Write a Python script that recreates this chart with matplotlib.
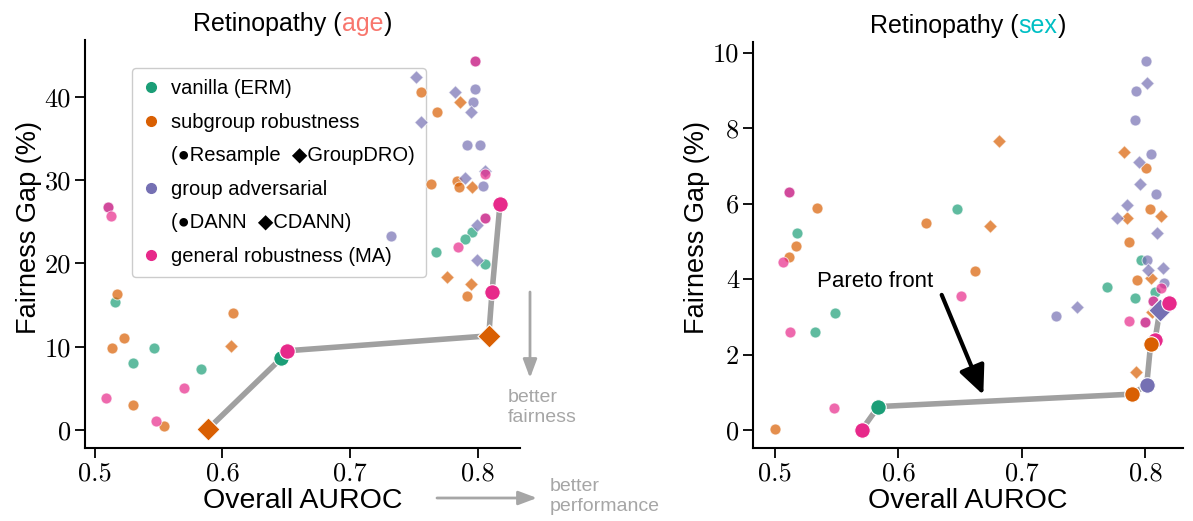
import matplotlib
matplotlib.use('Agg')
from matplotlib import pyplot as plt
from matplotlib.lines import Line2D
from matplotlib.patches import FancyArrowPatch

# ---- data ----
# method codes: erm, resample, groupdro, dann, cdann, ma
AGE_AUROC = [0.510, 0.510, 0.5126, 0.5175, 0.5157, 0.513, 0.523, 0.546, 0.5296, 0.5084,
             0.5296, 0.548, 0.554, 0.570, 0.583, 0.6085, 0.607,
             0.798, 0.798, 0.7518, 0.7554, 0.782, 0.798, 0.786, 0.7967, 0.7946, 0.768,
             0.7554, 0.7915, 0.802, 0.8056, 0.8056, 0.7633, 0.7836, 0.7857, 0.790,
             0.7957, 0.804, 0.8056, 0.8056, 0.7993, 0.7957, 0.790, 0.785, 0.732,
             0.7675, 0.7999, 0.8056, 0.7763, 0.795, 0.792]
AGE_GAP = [26.8, 26.8, 25.7, 16.3, 15.4, 9.8, 11.1, 9.9, 8.0, 3.9,
           3.0, 1.1, 0.5, 5.1, 7.3, 14.0, 10.1,
           44.3, 44.3, 42.3, 40.6, 40.6, 40.9, 39.4, 39.4, 38.2, 38.2,
           36.9, 34.2, 34.2, 31.1, 30.7, 29.5, 29.9, 29.2, 30.2,
           29.2, 29.3, 25.4, 25.4, 24.6, 23.7, 22.9, 21.9, 23.3,
           21.3, 20.4, 19.9, 18.3, 17.5, 16.1]
AGE_METHOD = ['dann', 'ma', 'ma', 'resample', 'erm', 'resample', 'resample', 'erm', 'erm', 'ma',
              'resample', 'ma', 'resample', 'ma', 'erm', 'resample', 'groupdro',
              'dann', 'ma', 'cdann', 'resample', 'cdann', 'dann', 'groupdro', 'dann', 'cdann', 'resample',
              'cdann', 'dann', 'dann', 'cdann', 'ma', 'resample', 'resample', 'resample', 'cdann',
              'groupdro', 'dann', 'dann', 'ma', 'cdann', 'erm', 'erm', 'ma', 'dann',
              'erm', 'cdann', 'erm', 'groupdro', 'groupdro', 'resample']
AGE_FRONT_AUROC = [0.5884, 0.646, 0.6503, 0.8088, 0.8114, 0.8176]
AGE_FRONT_GAP = [0.08, 8.6, 9.5, 11.3, 16.6, 27.1]
AGE_FRONT_METHOD = ['groupdro', 'erm', 'ma', 'groupdro', 'ma', 'ma']

SEX_AUROC = [0.500, 0.5113, 0.5113, 0.5337, 0.5176, 0.5167, 0.5113, 0.5065, 0.5486, 0.5324,
             0.5119, 0.5478, 0.6223,
             0.8004, 0.801, 0.7923, 0.7915, 0.6816, 0.7826, 0.8042, 0.7945, 0.8004, 0.7955,
             0.8085, 0.6471, 0.8036, 0.7848, 0.7767, 0.7848, 0.8123, 0.8096, 0.6741, 0.7866,
             0.6622, 0.7966, 0.801, 0.8144, 0.8023, 0.8042, 0.7928, 0.815, 0.7686, 0.8077,
             0.8123, 0.6509, 0.7915, 0.8064, 0.8064, 0.8053, 0.7443, 0.7273, 0.7864, 0.800,
             0.800, 0.7923]
SEX_GAP = [0.03, 6.31, 6.31, 5.89, 5.21, 4.87, 4.59, 4.44, 3.09, 2.60,
           2.60, 0.57, 5.49,
           9.78, 9.20, 8.99, 8.21, 7.66, 7.36, 7.31, 7.09, 6.93, 6.52,
           6.24, 5.85, 5.85, 5.96, 5.62, 5.62, 5.67, 5.23, 5.41, 4.99,
           4.22, 4.50, 4.50, 4.28, 4.24, 4.04, 3.97, 3.90, 3.78, 3.66,
           3.75, 3.56, 3.50, 3.43, 3.43, 3.13, 3.25, 3.02, 2.90, 2.86,
           2.86, 1.53]
SEX_METHOD = ['resample', 'dann', 'ma', 'resample', 'erm', 'resample', 'resample', 'ma', 'erm', 'erm',
              'ma', 'ma', 'resample',
              'dann', 'cdann', 'dann', 'dann', 'groupdro', 'groupdro', 'dann', 'cdann', 'resample', 'cdann',
              'dann', 'erm', 'resample', 'cdann', 'cdann', 'groupdro', 'groupdro', 'cdann', 'groupdro', 'resample',
              'resample', 'erm', 'dann', 'cdann', 'cdann', 'groupdro', 'resample', 'dann', 'erm', 'erm',
              'ma', 'ma', 'erm', 'dann', 'ma', 'groupdro', 'cdann', 'dann', 'ma', 'dann',
              'ma', 'groupdro']
SEX_FRONT_AUROC = [0.5702, 0.5837, 0.789, 0.801, 0.8077, 0.8042, 0.8117, 0.8193]
SEX_FRONT_GAP = [0.0, 0.62, 0.95, 1.19, 2.38, 2.28, 3.18, 3.37]
SEX_FRONT_METHOD = ['ma', 'erm', 'resample', 'dann', 'ma', 'resample', 'cdann', 'ma']

X_TICKS = [0.5, 0.6, 0.7, 0.8]
AGE_Y_TICKS = [0, 10, 20, 30, 40]
SEX_Y_TICKS = [0, 2, 4, 6, 8, 10]

LEGEND_LABELS = ['vanilla (ERM)', 'subgroup robustness', '(\u25cfResample  \u25c6GroupDRO)',
                 'group adversarial', '(\u25cfDANN  \u25c6CDANN)', 'general robustness (MA)']

COLORS = {'erm': '#1b9e77', 'resample': '#d95f02', 'groupdro': '#d95f02',
          'dann': '#7570b3', 'cdann': '#7570b3', 'ma': '#e7298a'}
MARKERS = {'erm': 'o', 'resample': 'o', 'groupdro': 'D', 'dann': 'o', 'cdann': 'D', 'ma': 'o'}
ORDER = ['erm', 'resample', 'groupdro', 'dann', 'cdann', 'ma']

SANS = ['Liberation Sans', 'DejaVu Sans']
GRAY = '#a6a6a6'

plt.rcParams['axes.formatter.use_mathtext'] = True

W, H = 1193, 521
fig = plt.figure(figsize=(W / 100, H / 100), dpi=100)
ax1 = fig.add_axes([85 / W, 73 / H, 435 / W, 408 / H])
ax2 = fig.add_axes([753 / W, 73 / H, 430 / W, 406 / H])


def draw_points(ax, xs, ys, methods, big=False):
    for m in ORDER:
        px = [x for x, k in zip(xs, methods) if k == m]
        py = [y for y, k in zip(ys, methods) if k == m]
        if not px:
            continue
        if big:
            s = 140 if MARKERS[m] == 'D' else 125
            ax.scatter(px, py, s=s, marker=MARKERS[m], color=COLORS[m],
                       edgecolor='white', linewidth=0.8, zorder=5)
        else:
            s = 48 if MARKERS[m] == 'D' else 62
            ax.scatter(px, py, s=s, marker=MARKERS[m], color=COLORS[m], alpha=0.7,
                       edgecolor='white', linewidth=0.7, zorder=2)


def draw_front(ax, xs, ys, methods):
    pts = sorted(zip(xs, ys))
    ax.plot([p[0] for p in pts], [p[1] for p in pts], color='#a0a0a0', lw=4,
            solid_capstyle='round', zorder=4)
    for x, y, m in zip(xs, ys, methods):
        draw_points(ax, [x], [y], [m], big=True)


def style_axis(ax, yticks):
    for side in ['top', 'right']:
        ax.spines[side].set_visible(False)
    for side in ['left', 'bottom']:
        ax.spines[side].set_linewidth(1.5)
    ax.set_xticks(X_TICKS)
    ax.set_xticklabels([str(t) for t in X_TICKS])
    ax.set_yticks(yticks)
    ax.set_yticklabels([str(t) for t in yticks])
    ax.tick_params(length=7, width=1.3, labelsize=19, pad=3)
    for lab in ax.get_xticklabels() + ax.get_yticklabels():
        lab.set_family('cmr10')
    ax.set_xlabel('Overall AUROC', fontsize=20.5, family=SANS, labelpad=2)
    ax.set_ylabel('Fairness Gap (%)', fontsize=19.5, family=SANS)


def colored_title(ax, parts, xc):
    renderer = fig.canvas.get_renderer()
    texts = []
    for s, c in parts:
        t = ax.text(0, 1.022, s, color=c, fontsize=18, family=SANS,
                    transform=ax.transAxes, ha='left', va='baseline')
        texts.append(t)
    axw = ax.get_window_extent(renderer).width
    widths = [t.get_window_extent(renderer).width / axw for t in texts]
    x = xc - sum(widths) / 2
    for t, w in zip(texts, widths):
        t.set_x(x)
        x += w


# left panel
draw_points(ax1, AGE_AUROC, AGE_GAP, AGE_METHOD)
draw_front(ax1, AGE_FRONT_AUROC, AGE_FRONT_GAP, AGE_FRONT_METHOD)
ax1.set_xlim(0.4922, 0.8333)
ax1.set_ylim(-2.16, 46.8)
style_axis(ax1, AGE_Y_TICKS)
ax1.yaxis.set_label_coords(-0.099, 0.54)

handles = []
for key, lab in zip(['erm', 'resample', None, 'dann', None, 'ma'], LEGEND_LABELS):
    if key is None:
        handles.append(Line2D([], [], linestyle='none', marker='', label=lab))
    else:
        handles.append(Line2D([], [], linestyle='none', marker='o', markersize=7,
                              color=COLORS[key], label=lab))
leg = ax1.legend(handles=handles, loc='upper left', bbox_to_anchor=(0.108, 0.931),
                 borderaxespad=0, prop={'family': SANS, 'size': 14.5},
                 handlelength=0.8, handletextpad=0.6, labelspacing=0.72,
                 borderpad=0.55, frameon=True, fancybox=True, framealpha=1)
leg.get_frame().set_edgecolor('#cccccc')
leg.get_frame().set_linewidth(1.0)
leg.set_zorder(1)

# right panel
draw_points(ax2, SEX_AUROC, SEX_GAP, SEX_METHOD)
draw_front(ax2, SEX_FRONT_AUROC, SEX_FRONT_GAP, SEX_FRONT_METHOD)
ax2.set_xlim(0.4822, 0.8304)
ax2.set_ylim(-0.477, 10.28)
style_axis(ax2, SEX_Y_TICKS)
ax2.yaxis.set_label_coords(-0.1, 0.544)

ax2.text(0.534, 3.79, 'Pareto front', fontsize=16, family=SANS, va='baseline', zorder=6)
ax2.annotate('', xy=(0.6687, 0.93), xytext=(0.635, 3.58),
             arrowprops=dict(arrowstyle='-|>,head_length=0.55,head_width=0.25', color='black',
                             lw=3, mutation_scale=32, shrinkA=0, shrinkB=0), zorder=6)

# titles
colored_title(ax1, [('Retinopathy (', 'black'), ('age', '#f8766d'), (')', 'black')], 0.477)
colored_title(ax2, [('Retinopathy (', 'black'), ('sex', '#00bfc4'), (')', 'black')], 0.5)

# direction hints
hint_style = '-|>,head_length=0.4,head_width=0.15'
fig.add_artist(FancyArrowPatch(
    (530 / W, (H - 292) / H), (530 / W, (H - 378) / H), transform=fig.transFigure,
    arrowstyle=hint_style, color=GRAY, lw=2, mutation_scale=28, shrinkA=0, shrinkB=0))
fig.text(508 / W, (H - 389) / H, 'better\nfairness', color=GRAY, fontsize=14,
         family=SANS, ha='left', va='top', linespacing=1.25)
fig.add_artist(FancyArrowPatch(
    (437 / W, (H - 498) / H), (537 / W, (H - 498) / H), transform=fig.transFigure,
    arrowstyle=hint_style, color=GRAY, lw=2, mutation_scale=28, shrinkA=0, shrinkB=0))
fig.text(550 / W, (H - 478) / H, 'better\nperformance', color=GRAY, fontsize=14,
         family=SANS, ha='left', va='top', linespacing=1.25)

fig.savefig('out.png', dpi=100)
